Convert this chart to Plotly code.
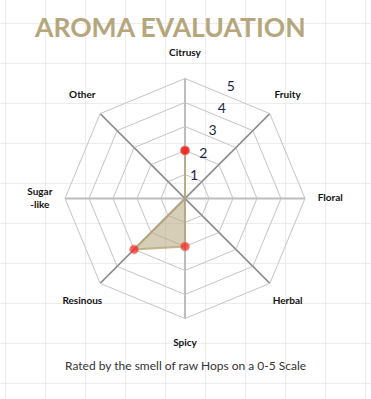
import plotly.graph_objects as go

categories = ["Citrusy", "Fruity", "Floral", "Herbal", "Spicy", "Resinous", "Sugar<br>-like", "Other"]
values = [2, 0, 0, 0, 2, 3, 0, 0]
radial_ticks = [1, 2, 3, 4, 5]
title_text = "AROMA EVALUATION"
caption_text = "Rated by the smell of raw Hops on a 0-5 Scale"

R_MAX = 5
W, H = 371, 399
TAN = "#b5a67c"
CX, CY, RAD = 185, 198.5, 120          # chart centre / radius in pixels
LABEL_SCALE = 1.25                      # overlay polar extends beyond the chart
STEP = 360 / len(categories)
angles = [i * STEP for i in range(len(categories))]

fig = go.Figure()

# background spreadsheet grid via an empty cartesian subplot
fig.add_trace(go.Scatter(x=[], y=[], showlegend=False, hoverinfo="skip"))

# diagonal spokes drawn darker
diag_theta, diag_r = [], []
for i in (1, 3):
    a, b = categories[i], categories[(i + 4) % 8]
    diag_theta += [a, a, b, None]
    diag_r += [R_MAX, 0, R_MAX, None]
fig.add_trace(go.Scatterpolar(r=diag_r, theta=diag_theta, mode="lines",
                              line=dict(color="#666", width=1), showlegend=False,
                              hoverinfo="skip", connectgaps=False))

fig.add_trace(go.Scatterpolar(
    r=values + values[:1], theta=categories + categories[:1],
    mode="lines+markers", fill="toself",
    fillcolor="rgba(181,166,124,0.55)",
    line=dict(color="rgba(181,166,124,0.8)", width=2),
    marker=dict(color="#ff1a1a", size=[9 if v > 0 else 0 for v in values + values[:1]]),
    showlegend=False, hoverinfo="skip"))

# radial tick labels, placed between Citrusy and Fruity (overlay polar)
fig.add_trace(go.Scatterpolar(
    r=radial_ticks, theta=[STEP / 2] * len(radial_ticks), mode="text", subplot="polar2",
    text=[str(t) for t in radial_ticks], textposition="middle center",
    textfont=dict(family="Lato", size=14, color="#1b1f4a"),
    showlegend=False, hoverinfo="skip"))

# category labels around the chart (overlay polar)
fig.add_trace(go.Scatterpolar(
    r=[R_MAX * 1.21] * len(categories), theta=angles, mode="text", subplot="polar2",
    text=categories, textposition="middle center",
    textfont=dict(family="Lato", size=10, color="#111", weight="bold"),
    showlegend=False, hoverinfo="skip"))

R2 = RAD * LABEL_SCALE
fig.update_layout(
    width=W, height=H, autosize=False,
    margin=dict(l=0, r=0, t=0, b=0),
    paper_bgcolor="white", plot_bgcolor="white",
    xaxis=dict(domain=[0, 1], range=[0, W], tick0=5, dtick=40, showgrid=True,
               gridcolor="#ececec", gridwidth=1, zeroline=False, showticklabels=False,
               fixedrange=True),
    yaxis=dict(domain=[0, 1], range=[H, 0], tick0=23, dtick=40, showgrid=True,
               gridcolor="#ececec", gridwidth=1, zeroline=False, showticklabels=False,
               fixedrange=True),
    polar=dict(
        domain=dict(x=[(CX - RAD) / W, (CX + RAD) / W],
                    y=[(H - CY - RAD) / H, (H - CY + RAD) / H]),
        bgcolor="rgba(0,0,0,0)",
        gridshape="linear",
        radialaxis=dict(range=[0, R_MAX], tickvals=radial_ticks, showticklabels=False,
                        showline=False, ticks="", gridcolor="#c4c4c4", gridwidth=1),
        angularaxis=dict(rotation=90, direction="clockwise", categoryorder="array",
                         categoryarray=categories, showticklabels=False, ticks="",
                         gridcolor="#bdbdbd", gridwidth=2, linecolor="#c4c4c4", linewidth=1),
    ),
    polar2=dict(
        domain=dict(x=[(CX - R2) / W, (CX + R2) / W],
                    y=[(H - CY - R2) / H, (H - CY + R2) / H]),
        bgcolor="rgba(0,0,0,0)",
        radialaxis=dict(range=[0, R_MAX * LABEL_SCALE], visible=False),
        angularaxis=dict(type="linear", thetaunit="degrees", rotation=90,
                         direction="clockwise", visible=False),
    ),
    title=dict(text=title_text, x=35 / W, xanchor="left", y=1 - 28 / H, yanchor="middle",
               font=dict(family="Lato", size=26.5, color=TAN, weight="bold")),
    annotations=[dict(text=caption_text, x=0.5, xref="paper", y=1 - 365 / H, yref="paper",
                      xanchor="center", yanchor="middle",
                      showarrow=False, font=dict(family="Lato", size=12, color="#333"))],
)

fig.write_html("out.html", config={"displayModeBar": False},
               post_script="document.body.style.margin='0';")
